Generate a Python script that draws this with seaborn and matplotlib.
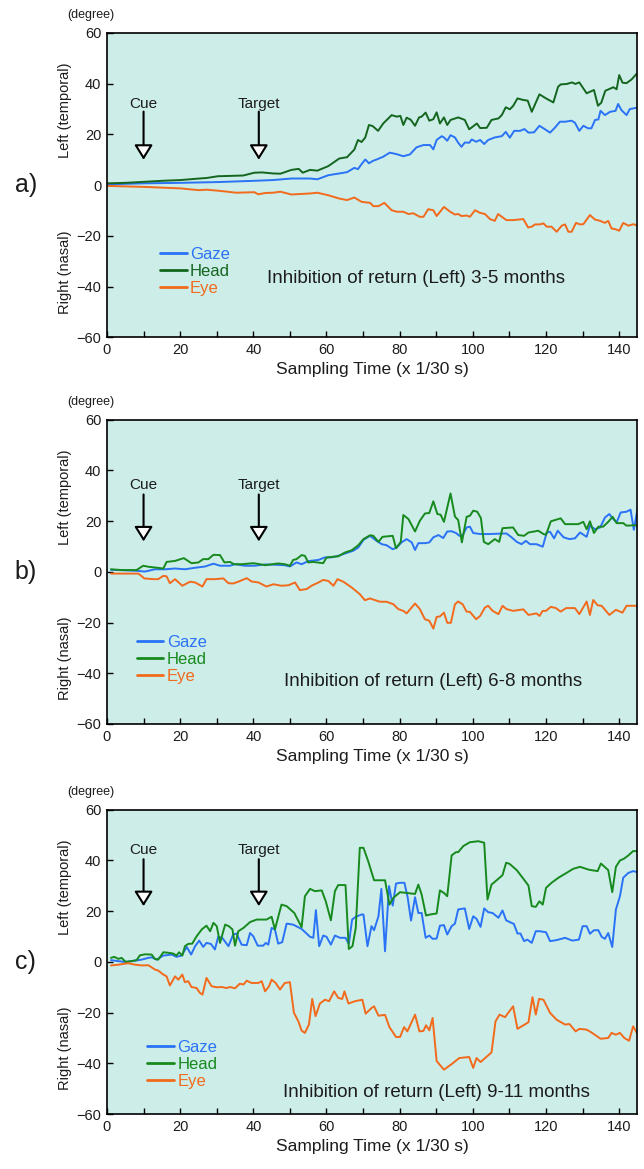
import numpy as np
import pandas as pd
import matplotlib
matplotlib.use('Agg')
import matplotlib.pyplot as plt
import seaborn as sns

# ---- panel a) 3-5 months ----
gaze_a_t = [0, 10.1, 20.2, 30.3, 40.3, 45.4, 50.4, 55.5, 57.5, 60.5, 63.5, 65.6, 67.6, 68.6, 69.6, 70.6, 71.6,
            72.6, 73.7, 75.5, 77.3, 79.2, 81.0, 82.8, 84.6, 86.5, 88.3, 89.2, 90.1, 91.5, 92.1, 93.0, 93.9,
            95.1, 96.0, 96.9, 97.8, 99.0, 99.7, 100.9, 102.0, 103.1, 104.2, 106.0, 107.9, 109.0, 110.1,
            111.3, 112.9, 114.1, 115.2, 116.7, 118.2, 119.3, 121.1, 122.4, 123.8, 125.2, 127.0, 127.9,
            129.1, 130.2, 131.5, 132.4, 133.4, 134.3, 134.9, 136.1, 137.5, 139.0, 139.7, 140.6, 142.0,
            142.9, 144.8, 145]
gaze_a = [0.3, 0.7, 0.9, 1.2, 1.7, 2.0, 2.6, 2.6, 2.3, 3.9, 4.6, 5.1, 6.8, 6.3, 8.3, 10.1, 8.6,
          9.5, 10.1, 11.2, 12.8, 12.2, 11.4, 12.1, 14.9, 15.8, 15.8, 14.1, 17.8, 19.3, 18.8, 17.5, 19.7,
          18.8, 16.7, 15.1, 16.8, 16.7, 18.0, 17.1, 17.8, 16.2, 17.8, 18.8, 19.3, 21.0, 18.7,
          21.4, 21.4, 22.1, 20.7, 20.8, 23.4, 22.4, 20.7, 22.6, 25.0, 25.0, 25.4, 24.6,
          21.4, 23.4, 22.4, 22.4, 25.7, 25.9, 29.3, 27.6, 28.9, 29.3, 32.0, 29.6, 27.6,
          30.0, 30.5, 30.6]

head_a_t = [0, 5, 10.1, 15.1, 20.2, 25.2, 27.2, 30.3, 35.3, 37.3, 40.3, 42.4, 45.4, 47.4, 50.4, 52.4,
            53.5, 55.5, 57.5, 60.5, 63.5, 65.6, 67.6, 68.6, 69.6, 70.6, 71.6, 72.6, 74.1, 75.5, 77.8,
            79.2, 80.2, 81.0, 81.9, 83.0, 84.2, 85.3, 86.0, 87.1, 88.1, 89.2, 90.1, 91.0, 92.1, 93.0,
            93.9, 96.0, 97.8, 99.0, 101.1, 102.0, 103.8, 105.1, 107.0, 107.9, 109.0, 110.1, 111.0,
            112.2, 113.7, 115.0, 116.1, 118.2, 120.0, 122.0, 123.3, 124.0, 125.7, 127.1, 128.0, 129.1,
            131.1, 132.0, 133.1, 134.2, 135.1, 136.2, 138.4, 139.3, 140.0, 140.9, 142.0, 143.4, 144.7, 145]
head_a = [0.7, 0.9, 1.3, 1.7, 2.0, 2.6, 2.8, 3.5, 3.7, 3.8, 4.9, 5.0, 4.6, 4.5, 6.0, 6.4,
          4.9, 6.0, 5.7, 7.5, 10.5, 11.0, 14.0, 17.8, 17.0, 18.8, 23.7, 23.3, 21.4, 24.3, 27.6,
          27.0, 27.3, 23.7, 26.6, 25.8, 23.4, 26.7, 27.0, 28.6, 25.4, 26.0, 28.7, 24.3, 26.7, 23.7,
          25.7, 26.7, 25.7, 22.0, 24.3, 22.5, 22.6, 25.7, 26.3, 27.6, 30.7, 29.9, 31.2,
          34.2, 33.6, 33.3, 28.9, 35.8, 34.2, 32.6, 38.8, 39.7, 39.9, 40.5, 39.9, 40.5,
          36.2, 36.8, 37.5, 31.3, 32.5, 37.2, 38.6, 37.8, 43.4, 40.4, 40.2, 41.7, 43.8, 44.0]

eye_a_t = [0, 10.1, 20.2, 22.2, 25.2, 27.2, 30.3, 32.3, 35.3, 40.3, 41.3, 43.4, 45.4, 47.4, 50.4, 55.5,
           57.5, 60.5, 63.5, 65.6, 67.6, 69.6, 71.9, 72.8, 74.2, 75.8, 77.8, 79.2, 81.0, 82.4, 83.7,
           85.5, 86.5, 87.8, 89.2, 90.1, 92.1, 93.8, 95.1, 96.0, 96.9, 98.3, 99.2, 100.6, 101.9,
           103.3, 104.7, 106.0, 106.9, 108.3, 109.2, 111.0, 112.4, 113.8, 115.1, 116.1, 117.0, 118.3,
           119.3, 120.2, 121.5, 122.9, 124.3, 125.2, 126.1, 127.0, 128.2, 129.3, 130.2, 132.0, 133.4,
           134.8, 136.1, 137.0, 137.9, 139.0, 140.0, 141.1, 142.5, 143.9, 145]
eye_a = [-0.3, -0.7, -1.3, -1.6, -2.0, -1.8, -2.2, -2.5, -3.0, -2.8, -3.6, -3.1, -3.0, -2.6, -3.7, -3.3,
         -3.0, -4.0, -5.3, -5.9, -4.9, -6.6, -7.0, -8.3, -8.3, -7.0, -9.9, -10.5, -10.5, -11.4, -11.1,
         -12.5, -12.5, -9.5, -9.9, -12.2, -8.6, -10.5, -11.6, -11.4, -12.2, -12.0, -12.5, -9.9, -10.9,
         -11.4, -13.4, -14.1, -11.4, -12.9, -13.8, -13.8, -13.6, -13.4, -16.7, -16.4, -15.5, -15.5,
         -15.1, -16.4, -16.4, -18.4, -16.0, -15.5, -18.4, -18.4, -14.9, -15.5, -15.4, -11.8, -13.6,
         -14.1, -14.9, -14.1, -17.1, -17.4, -18.0, -14.9, -16.0, -15.4, -16.0]

# ---- panel b) 6-8 months ----
gaze_b_t = [1.1, 8.1, 10.4, 13.1, 15.9, 18.6, 21.3, 24.1, 26.8, 29.1, 30.9, 33.6, 35.0, 37.7, 40.4, 43.2,
            45.9, 48.6, 50.0, 51.8, 53.2, 55.0, 57.8, 59.6, 61.4, 63.2, 65.0, 67.3, 68.7, 70.1, 71.9,
            73.7, 75.1, 76.4, 78.1, 79.2, 80.5, 81.9, 83.3, 84.2, 85.1, 86.9, 88.1, 89.2, 90.6, 91.9,
            93.0, 94.2, 95.4, 96.3, 97.2, 98.3, 99.2, 100.1, 102.0, 104.7, 108.3, 109.2, 110.6, 112.0,
            113.3, 114.5, 115.6, 117.4, 119.1, 120.2, 121.1, 122.2, 123.2, 124.8, 126.4, 127.9, 129.3,
            131.1, 132.0, 133.4, 134.8, 136.1, 137.3, 138.2, 139.3, 140.4, 142.0, 143.1, 144.0, 145]
gaze_b = [0.8, 0.4, 0.1, 1.0, 1.0, 1.3, 1.0, 1.6, 2.1, 3.2, 2.4, 2.4, 3.0, 2.4, 2.4, 2.9,
          2.8, 2.6, 2.1, 3.7, 3.0, 4.2, 4.7, 5.7, 5.7, 6.3, 7.2, 8.3, 9.6, 12.6, 14.2,
          12.2, 10.9, 10.5, 8.9, 9.6, 11.6, 12.9, 11.6, 8.6, 11.3, 11.3, 11.6, 13.6, 14.5, 13.3,
          15.9, 16.0, 15.3, 14.2, 14.4, 17.5, 17.8, 15.3, 14.9, 14.9, 15.1, 15.1, 13.6, 11.8,
          10.9, 12.2, 10.9, 10.9, 9.9, 15.5, 15.8, 13.2, 16.2, 13.6, 12.9, 13.2, 15.5,
          13.8, 18.2, 16.8, 17.5, 21.4, 22.8, 21.1, 19.5, 23.4, 23.7, 24.5, 16.6, 24.7]

head_b_t = [1.1, 4.0, 8.1, 9.9, 11.3, 13.1, 15.4, 16.3, 18.6, 21.0, 23.1, 25.0, 26.3, 27.7, 29.1, 30.9,
            32.1, 33.6, 34.7, 36.8, 40.0, 41.8, 43.2, 46.8, 48.6, 50.0, 50.9, 51.8, 53.2, 54.1, 55.0,
            56.4, 59.1, 60.0, 61.4, 63.2, 65.0, 66.9, 68.7, 70.1, 71.9, 72.8, 74.2, 75.3, 78.1, 79.0,
            80.3, 81.0, 82.4, 84.2, 85.5, 86.9, 88.1, 89.2, 90.3, 91.2, 92.1, 93.9, 95.1, 96.0, 97.0,
            98.3, 99.2, 100.1, 101.2, 102.2, 103.0, 104.2, 106.0, 107.2, 108.1, 111.0, 112.4, 114.0,
            115.2, 117.9, 119.3, 120.0, 121.3, 124.0, 125.2, 128.8, 130.2, 131.1, 132.0, 133.1, 134.3,
            135.6, 137.0, 138.2, 139.3, 141.1, 142.0, 145]
head_b = [1.0, 0.7, 0.7, 2.4, 2.0, 1.7, 1.3, 3.9, 4.3, 5.4, 3.4, 3.7, 5.0, 5.0, 6.7, 6.6,
          3.7, 3.9, 3.0, 3.0, 3.4, 3.0, 2.6, 3.3, 3.0, 2.4, 4.7, 5.0, 6.6, 6.3, 3.7,
          3.9, 3.4, 5.6, 5.9, 6.1, 7.6, 8.5, 10.5, 12.9, 14.4, 14.2, 11.8, 13.8, 14.2, 9.3,
          11.8, 22.4, 20.8, 15.9, 20.1, 23.0, 23.2, 27.8, 22.8, 22.5, 19.7, 30.9, 21.8, 20.4, 11.6,
          21.7, 22.1, 24.1, 23.7, 21.2, 11.8, 10.9, 12.9, 11.8, 17.2, 17.5, 14.5, 14.2,
          15.5, 16.2, 14.9, 14.6, 19.9, 21.1, 18.8, 18.8, 19.7, 16.8, 19.9, 15.3, 17.8,
          17.8, 19.7, 21.7, 19.2, 19.2, 18.2, 18.4]

eye_b_t = [1.1, 8.6, 10.2, 12.7, 14.0, 15.4, 16.3, 17.2, 18.6, 20.6, 22.7, 24.1, 26.1, 27.2, 29.5, 31.8,
           33.2, 34.5, 35.9, 38.2, 39.5, 41.4, 43.6, 45.5, 47.7, 49.6, 51.4, 52.7, 54.6, 55.9, 57.8,
           59.1, 60.5, 61.9, 63.0, 64.6, 66.9, 69.1, 70.5, 71.9, 74.6, 76.4, 78.3, 79.6, 81.0, 81.9,
           84.2, 85.5, 86.9, 88.1, 89.2, 90.1, 91.0, 92.1, 93.0, 94.0, 95.1, 96.0, 97.2, 98.3, 99.2,
           100.9, 102.0, 103.3, 104.2, 105.4, 107.0, 108.1, 109.2, 111.0, 113.8, 115.2, 117.4, 118.2,
           119.1, 120.0, 121.3, 122.7, 124.0, 125.5, 127.9, 129.1, 131.1, 132.0, 132.9, 134.1, 135.2,
           137.3, 139.1, 140.9, 142.0, 145]
eye_b = [-0.7, -0.7, -2.6, -2.9, -2.9, -1.6, -1.8, -4.5, -2.9, -5.5, -3.9, -4.2, -5.8, -2.9, -2.9, -2.6,
         -4.5, -4.6, -3.9, -2.5, -3.8, -4.2, -5.8, -4.9, -5.5, -5.3, -4.2, -7.2, -6.8, -5.5, -4.2,
         -3.2, -3.6, -5.5, -2.9, -3.9, -6.2, -8.8, -11.2, -10.5, -11.8, -11.8, -12.8, -14.7, -15.4, -16.4,
         -12.5, -14.7, -18.7, -19.3, -22.4, -17.8, -17.6, -16.1, -20.1, -20.1, -12.8, -11.7, -12.8, -15.7, -15.8,
         -18.7, -17.4, -14.1, -13.4, -15.4, -16.7, -13.4, -14.7, -15.4, -14.8, -17.0, -16.4, -17.4,
         -15.4, -15.4, -13.8, -14.3, -15.7, -14.3, -14.3, -16.7, -11.7, -17.0, -11.1, -13.2, -13.4,
         -17.0, -15.0, -16.1, -13.4, -13.4]

# ---- panel c) 9-11 months ----
gaze_c_t = [1.1, 3.1, 4.9, 7.7, 9.5, 11.3, 12.2, 13.6, 15.4, 17.7, 19.0, 20.4, 21.8, 23.0, 24.1, 25.2,
            26.3, 27.2, 28.4, 29.5, 30.4, 31.5, 33.2, 34.5, 35.4, 36.8, 38.2, 39.1, 40.0, 41.2, 42.7,
            43.4, 44.1, 45.0, 45.9, 46.8, 47.9, 49.1, 50.9, 53.2, 55.5, 56.4, 57.1, 58.0, 59.1, 60.0,
            61.2, 62.3, 63.7, 65.2, 66.1, 67.0, 68.0, 69.6, 70.1, 71.2, 72.3, 73.0, 74.2, 75.0, 76.0,
            77.1, 78.1, 79.0, 80.1, 81.3, 82.2, 83.1, 84.2, 85.1, 86.0, 87.1, 88.1, 89.0, 90.1, 91.0,
            92.1, 93.0, 94.2, 95.1, 96.0, 97.8, 99.0, 100.1, 101.0, 102.1, 103.1, 104.2, 105.4, 107.0,
            108.1, 109.1, 110.1, 111.2, 112.2, 113.0, 114.0, 114.9, 116.1, 117.2, 118.3, 120.0, 121.1,
            122.9, 125.2, 127.2, 129.0, 130.0, 131.1, 132.0, 133.1, 134.3, 135.2, 136.1, 137.0, 138.1,
            139.1, 140.2, 141.1, 142.5, 143.8, 145]
gaze_c = [0.7, 0.3, 0.0, 0.5, 0.9, 1.6, 1.8, 0.9, 2.5, 2.9, 2.0, 2.5, 5.9, 2.9, 6.2, 8.4,
          5.9, 7.5, 7.1, 4.9, 9.9, 9.5, 6.2, 10.8, 11.2, 6.8, 6.6, 11.4, 10.1, 6.4, 6.4,
          7.5, 6.8, 13.4, 12.8, 7.2, 7.8, 15.1, 14.7, 13.0, 9.9, 9.5, 20.4, 6.2, 10.4, 9.9,
          6.8, 10.4, 9.5, 9.5, 7.1, 16.7, 17.8, 18.7, 18.7, 6.2, 14.1, 12.5, 18.0, 28.8, 4.2,
          29.9, 22.2, 30.9, 31.2, 31.2, 25.3, 16.3, 25.5, 19.3, 19.3, 9.5, 10.4, 9.1, 9.2, 14.3,
          14.5, 10.8, 14.1, 15.1, 20.7, 21.1, 13.0, 18.0, 17.0, 13.8, 21.1, 19.6, 19.3, 17.4,
          20.3, 16.4, 15.7, 15.0, 11.2, 11.2, 8.2, 8.8, 7.5, 12.1, 12.1, 11.7, 8.2,
          8.6, 9.5, 8.4, 8.8, 14.1, 14.1, 11.1, 12.5, 12.5, 9.9, 9.1, 11.4, 5.9,
          20.7, 25.9, 33.2, 35.1, 35.8, 35.4]

head_c_t = [1.1, 2.0, 3.1, 4.0, 5.1, 6.7, 8.1, 9.0, 10.4, 12.2, 13.1, 14.0, 15.4, 16.8, 18.1, 19.0, 19.7,
            20.6, 21.3, 22.2, 23.3, 24.5, 25.9, 27.2, 28.2, 29.1, 30.0, 30.9, 32.3, 33.3, 34.3, 35.0,
            35.9, 37.3, 39.1, 40.9, 43.6, 45.0, 45.9, 47.7, 49.1, 51.2, 53.2, 54.1, 55.5, 56.8, 58.7,
            59.8, 61.2, 62.3, 63.2, 65.2, 66.1, 67.1, 68.0, 69.1, 70.1, 71.4, 73.0, 76.0, 77.2, 78.3,
            80.1, 81.9, 84.2, 85.1, 86.0, 87.2, 88.3, 90.1, 91.0, 92.1, 93.0, 94.2, 95.4, 96.0, 97.4,
            99.2, 101.5, 103.1, 104.0, 105.1, 106.5, 108.1, 109.1, 110.0, 112.0, 113.8, 115.2, 116.1,
            117.2, 118.2, 119.1, 120.0, 121.5, 123.4, 125.6, 127.4, 129.3, 131.6, 134.1, 135.0, 137.0,
            138.1, 139.1, 140.2, 141.3, 142.5, 143.8, 145]
head_c = [1.6, 2.0, 1.2, 1.6, 0.0, 0.3, 0.7, 2.6, 3.0, 2.9, 1.2, 0.9, 3.8, 3.6, 3.3, 2.5, 3.8,
          2.5, 6.2, 7.1, 7.2, 10.1, 12.8, 14.3, 12.1, 15.4, 14.1, 7.5, 14.7, 14.1, 12.8, 6.4,
          12.1, 13.4, 15.7, 16.7, 16.7, 17.8, 12.8, 22.6, 22.0, 19.3, 13.7, 25.9, 28.8, 27.9, 28.2,
          23.9, 16.4, 27.9, 30.3, 30.3, 5.1, 6.2, 13.4, 45.0, 45.0, 39.7, 32.2, 32.2, 22.6, 25.3,
          27.5, 27.2, 26.8, 30.5, 26.6, 18.3, 18.7, 19.1, 28.2, 27.2, 25.9, 42.0, 43.3, 43.3, 45.7,
          47.2, 47.6, 47.0, 24.6, 30.5, 32.2, 34.2, 39.1, 38.7, 36.2, 32.8, 30.1, 22.0,
          21.7, 23.9, 22.6, 29.2, 31.2, 33.2, 35.1, 36.7, 37.5, 36.4, 35.8, 38.8, 36.2,
          27.5, 37.5, 40.0, 40.7, 42.0, 43.7, 43.7]

eye_c_t = [1.1, 3.1, 5.8, 7.7, 9.5, 11.3, 13.1, 14.0, 15.4, 16.3, 17.2, 18.6, 19.5, 20.6, 21.3, 22.2,
           23.1, 24.5, 25.4, 26.1, 27.2, 28.6, 30.0, 31.3, 32.7, 33.6, 35.0, 36.3, 37.3, 38.2, 39.5,
           41.4, 42.3, 43.2, 44.3, 45.0, 46.1, 47.3, 48.6, 50.0, 51.1, 52.3, 53.2, 54.1, 55.2, 56.1,
           57.0, 58.2, 59.6, 60.7, 62.1, 63.2, 64.3, 64.9, 66.0, 67.8, 69.8, 70.7, 72.3, 73.0, 74.2,
           76.0, 77.2, 79.0, 80.1, 81.2, 82.1, 84.2, 85.4, 86.5, 87.2, 88.1, 89.0, 90.1, 92.1, 94.2,
           96.3, 99.0, 100.1, 101.0, 102.1, 105.1, 106.2, 107.3, 108.8, 111.0, 112.2, 115.2, 116.3,
           117.2, 118.1, 119.3, 121.1, 122.9, 125.2, 126.4, 128.1, 129.1, 131.1, 132.4, 134.9, 137.0,
           137.9, 139.1, 140.2, 141.4, 142.7, 143.8, 145]
eye_c = [-1.4, -1.1, -0.5, -1.1, -1.4, -1.3, -3.0, -3.4, -5.0, -5.7, -9.3, -5.7, -7.0, -5.0, -8.0, -7.6,
         -9.9, -10.3, -12.2, -12.9, -6.3, -9.6, -10.0, -9.9, -10.3, -9.9, -10.4, -8.6, -8.9, -7.4, -8.3,
         -8.3, -7.6, -11.6, -9.6, -7.0, -8.3, -10.9, -8.3, -8.0, -20.1, -23.4, -27.1, -28.0, -24.7, -14.6,
         -21.4, -16.4, -14.9, -15.5, -11.6, -14.2, -14.6, -11.6, -16.4, -15.5, -14.9, -20.4, -18.2, -17.5, -21.2,
         -20.9, -25.7, -29.6, -29.6, -25.7, -27.4, -20.8, -27.4, -27.2, -25.0, -27.0, -22.1, -39.1, -42.5, -40.3,
         -37.9, -37.5, -41.8, -37.9, -39.5, -35.7, -23.4, -20.8, -21.8, -17.5, -26.4, -23.8, -13.9,
         -20.8, -14.6, -14.9, -20.1, -22.8, -24.7, -24.5, -27.4, -26.4, -26.7, -27.8, -30.3, -30.0,
         -28.0, -28.7, -28.0, -30.0, -31.1, -25.4, -28.4]

panel_letters = ['a)', 'b)', 'c)']
panel_titles = ['Inhibition of return (Left) 3-5 months',
                'Inhibition of return (Left) 6-8 months',
                'Inhibition of return (Left) 9-11 months']
series_names = ['Gaze', 'Head', 'Eye']
cue_time = 10
target_time = 41.5

# colours
bg = '#cdede9'
gaze_col = '#2a72f6'
eye_col = '#f26a1c'
head_cols = ['#14661f', '#178a1d', '#178a1d']
ink = '#1c1c1c'

sns.set_style('ticks')
plt.rcParams['font.family'] = ['Liberation Sans', 'DejaVu Sans']

fig = plt.figure(figsize=(6.44, 11.69), dpi=100)
bottoms = [0.7115, 0.3807, 0.0470]

panels = [
    ((gaze_a_t, gaze_a), (head_a_t, head_a), (eye_a_t, eye_a)),
    ((gaze_b_t, gaze_b), (head_b_t, head_b), (eye_b_t, eye_b)),
    ((gaze_c_t, gaze_c), (head_c_t, head_c), (eye_c_t, eye_c)),
]
# layout per panel: arrow top/bottom, label y, title position, legend anchor
arrow_y = [(29.0, 10.0, 32.0), (30.5, 12.0, 34.2), (40.5, 22.0, 44.0)]
title_pos = [(43.8, -36.7), (48.5, -43.3), (48.1, -51.6)]
legend_anchor = [(0.100, 0.297), (0.056, 0.292), (0.076, 0.244)]

for i, series in enumerate(panels):
    ax = fig.add_axes([0.1661, bottoms[i], 0.8238, 0.2603])
    ax.set_facecolor(bg)
    cols = [gaze_col, head_cols[i], eye_col]
    for (t, v), name, c in zip(series, series_names, cols):
        df = pd.DataFrame({'time': t, 'deg': v})
        sns.lineplot(data=df, x='time', y='deg', ax=ax, color=c, linewidth=1.4,
                     estimator=None, sort=False, label=name)

    ax.set_xlim(0, 145)
    ax.set_ylim(-60, 60)
    ax.set_xticks(np.arange(0, 141, 20))
    ax.set_xticks(np.arange(10, 141, 20), minor=True)
    ax.set_yticks(np.arange(-60, 61, 20))
    ax.tick_params(axis='both', which='both', direction='in', length=4.5, width=1,
                   color='black', labelsize=10.5, labelcolor=ink, pad=4)
    for s in ax.spines.values():
        s.set_color('black')
        s.set_linewidth(1.2)
    ax.set_xlabel('Sampling Time (x 1/30 s)', fontsize=12.5, color=ink, labelpad=4)
    ax.set_ylabel('')

    # side labels
    ax.text(-0.079, 0.745, 'Left (temporal)', transform=ax.transAxes, rotation=90,
            ha='center', va='center', fontsize=10.5, color=ink)
    ax.text(-0.079, 0.215, 'Right (nasal)', transform=ax.transAxes, rotation=90,
            ha='center', va='center', fontsize=10.5, color=ink)
    ax.text(-0.030, 1.059, '(degree)', transform=ax.transAxes, ha='center', va='center',
            fontsize=9, color=ink)
    ax.text(-0.153, 0.5, panel_letters[i], transform=ax.transAxes, ha='center', va='center',
            fontsize=18, color=ink)

    # cue / target arrows
    top, bot, lab = arrow_y[i]
    for tt, word in [(cue_time, 'Cue'), (target_time, 'Target')]:
        ax.annotate('', xy=(tt, bot), xytext=(tt, top),
                    arrowprops=dict(arrowstyle='-|>,head_length=0.45,head_width=0.28',
                                    mutation_scale=20, facecolor='white',
                                    edgecolor='black', lw=1.5, shrinkA=0, shrinkB=0))
        ax.text(tt, lab, word, ha='center', va='center', fontsize=11, color=ink)

    ax.text(title_pos[i][0], title_pos[i][1], panel_titles[i], ha='left', va='center',
            fontsize=13.5, color=ink)

    leg = ax.legend(loc='upper left', bbox_to_anchor=legend_anchor[i], frameon=False,
                    fontsize=12, handlelength=1.6, handletextpad=0.2, labelspacing=0.12,
                    borderpad=0, borderaxespad=0, labelcolor='linecolor')
    for line in leg.get_lines():
        line.set_linewidth(2)

fig.savefig('out.png', dpi=100)
